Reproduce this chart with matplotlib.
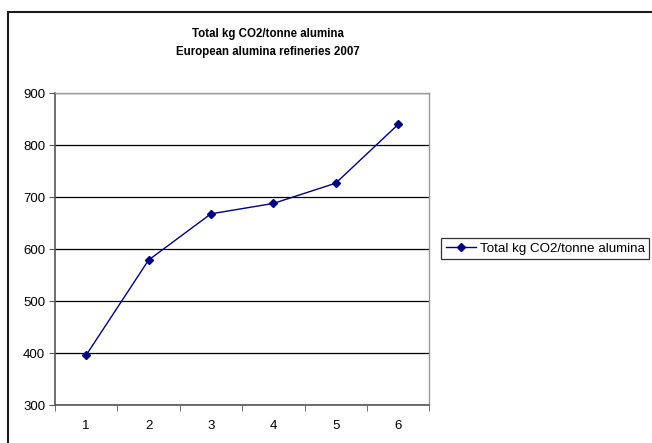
import matplotlib
matplotlib.use("Agg")
import matplotlib.pyplot as plt
from matplotlib.patches import Rectangle

plt.rcParams["font.family"] = ["Liberation Sans", "DejaVu Sans"]

# refinery index and emission intensity (kg CO2 per tonne alumina)
refineries = [1, 2, 3, 4, 5, 6]
co2_per_tonne = [396, 579, 668, 688, 727, 840]
y_ticks = [300, 400, 500, 600, 700, 800, 900]
series_label = "Total kg CO2/tonne alumina"
title = "Total kg CO2/tonne alumina\nEuropean alumina refineries 2007"

W, H = 652, 443
fig = plt.figure(figsize=(W / 100, H / 100), dpi=100)
fig.patch.set_facecolor("white")

# outer chart-area border (cut off at right/bottom in the original)
fig.patches.append(Rectangle((8 / W, -0.1), 1.2, 1.1 - 11.7 / H,
                             transform=fig.transFigure, fill=False,
                             ec="#1a1a1a", lw=1.5))

ax = fig.add_axes([55 / W, 1 - 405 / H, (429.3 - 55) / W, (405 - 93.3) / H])
ax.plot(refineries, co2_per_tonne, color="#000080", lw=1.0, marker="D",
        ms=4.5, mec="#000080", mfc="#000080", label=series_label)

ax.set_xlim(0.5, 6.5)
ax.set_ylim(300, 900)
ax.set_yticks(y_ticks)
ax.set_xticks(refineries)
ax.set_xticks([i + 0.5 for i in range(0, 7)], minor=True)
ax.tick_params(axis="x", which="major", length=0, pad=11, labelsize=9.5, colors="black")
ax.tick_params(axis="x", which="minor", length=4, direction="out", color="#555555")
ax.tick_params(axis="y", length=4, direction="out", labelsize=9.5, pad=3, color="#555555")
ax.yaxis.grid(True, color="black", lw=0.9)
ax.set_axisbelow(True)
for s in ("top", "right"):
    ax.spines[s].set_color("#999999")
    ax.spines[s].set_linewidth(1.0)
for s in ("left", "bottom"):
    ax.spines[s].set_color("#555555")
    ax.spines[s].set_linewidth(1.2)

fig.text(268 / W, 1 - 43 / H, title, ha="center", va="center",
         fontsize=8.3, fontweight="bold", linespacing=1.65)

leg = fig.legend(loc="center left", bbox_to_anchor=(441 / W, 1 - 248.5 / H),
                 frameon=True, fancybox=False, fontsize=9.6, borderpad=0.35,
                 handlelength=2.25, handletextpad=0.3, borderaxespad=0)
leg.get_frame().set_edgecolor("black")
leg.get_frame().set_linewidth(0.9)

fig.savefig("out.png", dpi=100, facecolor="white")
